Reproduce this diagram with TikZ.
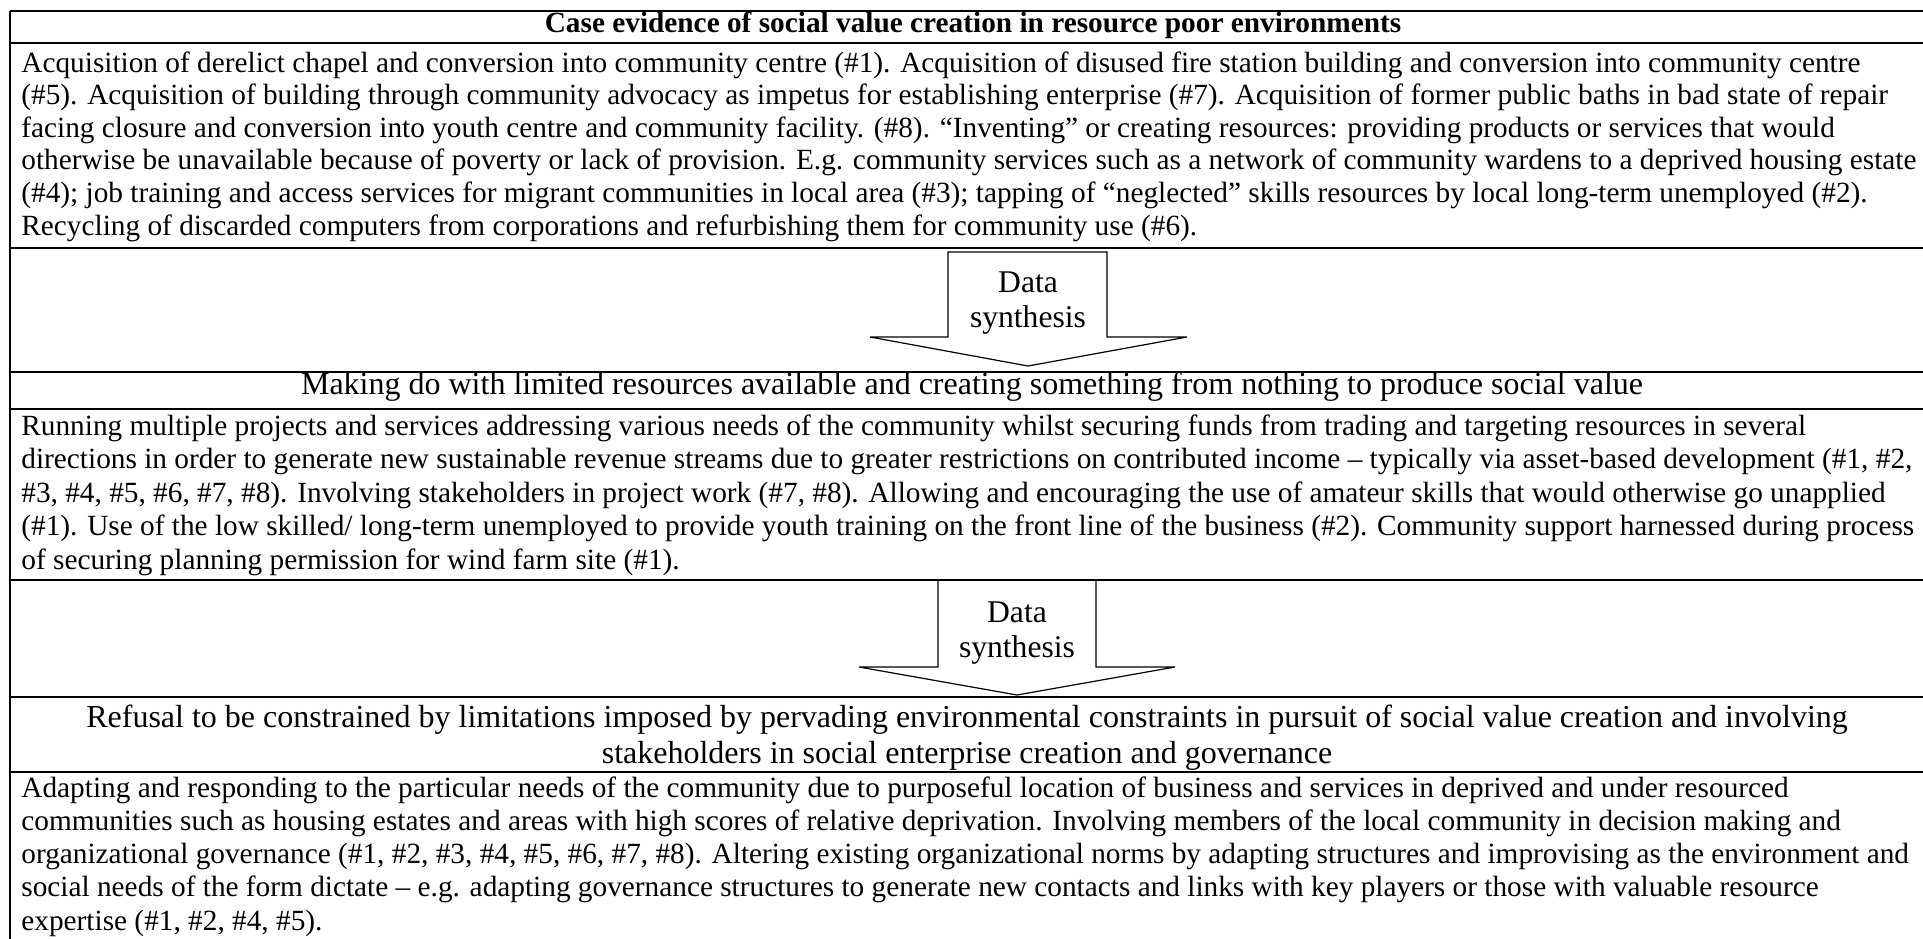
\documentclass[tikz,border=0pt]{standalone}
\usepackage{fontspec}
\setmainfont{Liberation Serif}
\tikzset{
  rule/.style={line width=1pt},
  synarrow/.style={line width=0.6pt},
  bodytext/.style={anchor=base west, align=left, inner sep=0pt, font=\fontsize{14.65}{16.7}\selectfont},
  headtext/.style={anchor=base, align=center, inner sep=0pt, font=\fontsize{16}{18}\selectfont},
  synthtext/.style={anchor=base, align=center, inner sep=0pt, font=\fontsize{15.8}{17.5}\selectfont}
}
\begin{document}
\begin{tikzpicture}[x=0.5pt,y=-0.5pt]
      \clip (0,0) rectangle (1923,938);
      \draw[rule] (10,11) -- (1940,11);
      \draw[rule] (10,11) -- (10,950);
      \draw[rule] (10,43) -- (1940,43);
      \draw[rule] (10,248) -- (1940,248);
      \draw[rule] (10,372) -- (1940,372);
      \draw[rule] (10,409) -- (1940,409);
      \draw[rule] (10,580) -- (1940,580);
      \draw[rule] (10,697) -- (1940,697);
      \draw[rule] (10,772) -- (1940,772);
      \node[headtext, font=\fontsize{14.65}{16.75}\selectfont\bfseries] (casehead) at (973,32)
        {Case evidence of social value creation in resource poor environments};
      \node[bodytext, font=\fontsize{14.65}{16.3}\selectfont] (casebody) at (21,235) {Acquisition of derelict chapel and conversion into community centre (\#1). Acquisition of disused fire station building and conversion into community centre\\
(\#5). Acquisition of building through community advocacy as impetus for establishing enterprise (\#7). Acquisition of former public baths in bad state of repair\\
facing closure and conversion into youth centre and community facility. (\#8). “Inventing” or creating resources: providing products or services that would\\
otherwise be unavailable because of poverty or lack of provision. E.g. community services such as a network of community wardens to a deprived housing estate\\
(\#4); job training and access services for migrant communities in local area (\#3); tapping of “neglected” skills resources by local long-term unemployed (\#2).\\
Recycling of discarded computers from corporations and refurbishing them for community use (\#6).};
      \draw[synarrow] (948,252) -- (1107,252) -- (1107,337) -- (1187,337) -- (1028,366)
        -- (870,337) -- (948,337) -- cycle;
      \node[synthtext] (synth1) at (1028,327) {Data\\synthesis};
      \node[headtext] (makinghead) at (972,394)
        {Making do with limited resources available and creating something from nothing to produce social value};
      \node[bodytext, font=\fontsize{14.65}{16.75}\selectfont] (makingbody) at (21,569) {Running multiple projects and services addressing various needs of the community whilst securing funds from trading and targeting resources in several\\
directions in order to generate new sustainable revenue streams due to greater restrictions on contributed income – typically via asset-based development (\#1, \#2,\\
\#3, \#4, \#5, \#6, \#7, \#8). Involving stakeholders in project work (\#7, \#8). Allowing and encouraging the use of amateur skills that would otherwise go unapplied\\
(\#1). Use of the low skilled/ long-term unemployed to provide youth training on the front line of the business (\#2). Community support harnessed during process\\
of securing planning permission for wind farm site (\#1).};
      \draw[synarrow] (938,580) -- (938,667) -- (859,667) -- (1017,695) -- (1175,667)
        -- (1096,667) -- (1096,580);
      \node[synthtext] (synth2) at (1017,657) {Data\\synthesis};
      \node[headtext] (refusalhead) at (967,763)
        {Refusal to be constrained by limitations imposed by pervading environmental constraints in pursuit of social value creation and involving\\
stakeholders in social enterprise creation and governance};
      \node[bodytext, font=\fontsize{14.65}{16.6}\selectfont] (refusalbody) at (21,930) {Adapting and responding to the particular needs of the community due to purposeful location of business and services in deprived and under resourced\\
communities such as housing estates and areas with high scores of relative deprivation. Involving members of the local community in decision making and\\
organizational governance (\#1, \#2, \#3, \#4, \#5, \#6, \#7, \#8). Altering existing organizational norms by adapting structures and improvising as the environment and\\
social needs of the form dictate – e.g. adapting governance structures to generate new contacts and links with key players or those with valuable resource\\
expertise (\#1, \#2, \#4, \#5).};
\end{tikzpicture}
\end{document}
